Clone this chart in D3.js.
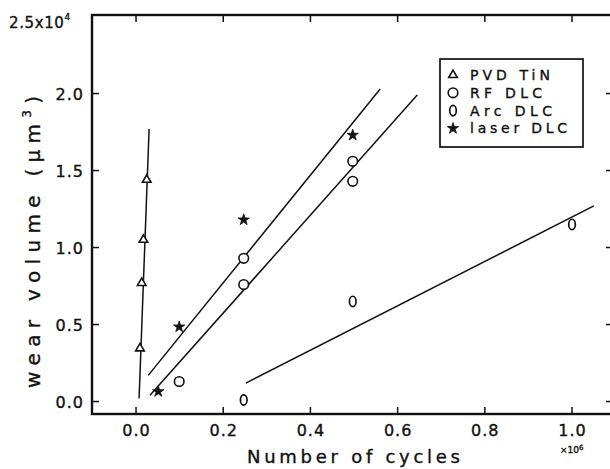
<!DOCTYPE html>
<html>
<head>
<meta charset="utf-8">
<script src="https://cdn.jsdelivr.net/npm/d3@7"></script>
<style>
  html, body { margin: 0; padding: 0; background: #fff; }
  svg { display: block; }
  text { font-family: "DejaVu Sans", sans-serif; fill: #111; stroke: #111; stroke-width: 0.35px; }
</style>
</head>
<body>
<svg id="chart" width="610" height="469"></svg>
<script>
// ---- data (x in 10^6 cycles, y in 10^4 µm^3) ----
const xTicks = [0.0, 0.2, 0.4, 0.6, 0.8, 1.0];
const yTicks = [0.0, 0.5, 1.0, 1.5, 2.0];
const xTickLabels = ["0.0", "0.2", "0.4", "0.6", "0.8", "1.0"];
const yTickLabels = ["0.0", "0.5", "1.0", "1.5", "2.0"];

const pvdX = [0.009, 0.013, 0.017, 0.0245];
const pvdY = [0.345, 0.77, 1.05, 1.44];
const rfX = [0.099, 0.247, 0.247, 0.497, 0.497];
const rfY = [0.13, 0.76, 0.93, 1.43, 1.56];
const arcX = [0.247, 0.497, 1.0];
const arcY = [0.01, 0.65, 1.15];
const laserX = [0.051, 0.099, 0.247, 0.497];
const laserY = [0.065, 0.485, 1.18, 1.73];

// fitted lines (end points)
const pvdLineX = [0.007, 0.030];
const pvdLineY = [0.02, 1.77];
const laserLineX = [0.028, 0.56];
const laserLineY = [0.17, 2.03];
const rfLineX = [0.032, 0.645];
const rfLineY = [0.04, 1.99];
const arcLineX = [0.252, 1.05];
const arcLineY = [0.12, 1.27];

const legendLabels = ["PVD  TiN", "RF  DLC", "Arc  DLC", "laser  DLC"];
const legendWidths = [80, 72, 82, 97];
const legendShapes = ["triangle", "circle", "diamond", "star"];

// ---- layout ----
const svg = d3.select("#chart");
const x = d3.scaleLinear().domain([-0.101, 1.094]).range([92, 613]);
const y = d3.scaleLinear().domain([-0.081, 2.51]).range([414, 15]);
const x0 = x.range()[0], x1 = x.range()[1];
const y0 = y.range()[0], y1 = y.range()[1];

// frame
svg.append("rect")
  .attr("x", x0).attr("y", y1)
  .attr("width", x1 - x0).attr("height", y0 - y1)
  .attr("fill", "none").attr("stroke", "#111").attr("stroke-width", 2.4);

// ticks (inward on all four sides)
const tl = 7;
const tickG = svg.append("g").attr("stroke", "#111").attr("stroke-width", 1.5);
xTicks.forEach(v => {
  tickG.append("line").attr("x1", x(v)).attr("x2", x(v)).attr("y1", y0).attr("y2", y0 - tl);
  tickG.append("line").attr("x1", x(v)).attr("x2", x(v)).attr("y1", y1).attr("y2", y1 + tl);
});
yTicks.forEach(v => {
  tickG.append("line").attr("x1", x0).attr("x2", x0 + tl).attr("y1", y(v)).attr("y2", y(v));
  tickG.append("line").attr("x1", x1).attr("x2", x1 - tl).attr("y1", y(v)).attr("y2", y(v));
});

// tick labels
xTicks.forEach((v, i) => {
  svg.append("text").attr("x", x(v) + 0.5).attr("y", 436)
    .attr("text-anchor", "middle").attr("font-size", 16).attr("letter-spacing", 1)
    .text(xTickLabels[i]);
});
yTicks.forEach((v, i) => {
  svg.append("text").attr("x", 84).attr("y", y(v) + 6)
    .attr("text-anchor", "end").attr("font-size", 16).attr("letter-spacing", 1)
    .text(yTickLabels[i]);
});
// top y label with exponent
const topLab = svg.append("text").attr("x", 9).attr("y", 28).attr("font-size", 15).attr("letter-spacing", 0.6);
topLab.append("tspan").text("2.5x10");
topLab.append("tspan").attr("font-size", 9).attr("dy", -8).text("4");

// x multiplier
const xm = svg.append("text").attr("x", 560).attr("y", 453).attr("font-size", 9);
xm.append("tspan").text("\u00d710");
xm.append("tspan").attr("font-size", 7).attr("dy", -3).text("6");

// axis titles
svg.append("text").attr("x", 247).attr("y", 463)
  .attr("font-size", 18).attr("textLength", 213).attr("lengthAdjust", "spacing")
  .text("Number of cycles");
const yt = svg.append("text")
  .attr("transform", "translate(40,388) rotate(-90)")
  .attr("font-size", 20).attr("textLength", 292).attr("lengthAdjust", "spacing");
yt.append("tspan").text("wear volume (\u03bcm");
yt.append("tspan").attr("font-size", 12).attr("dy", -9).text("3");
yt.append("tspan").attr("dy", 9).text(")");

// fitted lines
const lineG = svg.append("g").attr("stroke", "#111").attr("stroke-width", 1.5).attr("fill", "none");
[[pvdLineX, pvdLineY], [laserLineX, laserLineY], [rfLineX, rfLineY], [arcLineX, arcLineY]].forEach(([lx, ly]) => {
  lineG.append("path")
    .attr("d", d3.line().x(d => x(d[0])).y(d => y(d[1]))(lx.map((v, i) => [v, ly[i]])));
});

// markers
function drawMarker(g, shape, cx, cy) {
  if (shape === "triangle") {
    g.append("path").attr("d", d3.symbol().type(d3.symbolTriangle).size(32)())
      .attr("transform", `translate(${cx},${cy})`)
      .attr("fill", "#fff").attr("stroke", "#111").attr("stroke-width", 1.6);
  } else if (shape === "circle") {
    g.append("circle").attr("cx", cx).attr("cy", cy).attr("r", 4.8)
      .attr("fill", "#fff").attr("stroke", "#111").attr("stroke-width", 1.6);
  } else if (shape === "diamond") {
    g.append("ellipse").attr("cx", cx).attr("cy", cy).attr("rx", 3.3).attr("ry", 5.2)
      .attr("fill", "#fff").attr("stroke", "#111").attr("stroke-width", 1.7);
  } else {
    g.append("path").attr("d", d3.symbol().type(d3.symbolStar).size(40)())
      .attr("transform", `translate(${cx},${cy})`)
      .attr("fill", "#111").attr("stroke", "#111").attr("stroke-width", 0.8);
  }
}
const mG = svg.append("g");
pvdX.forEach((v, i) => drawMarker(mG, "triangle", x(v), y(pvdY[i])));
rfX.forEach((v, i) => drawMarker(mG, "circle", x(v), y(rfY[i])));
arcX.forEach((v, i) => drawMarker(mG, "diamond", x(v), y(arcY[i])));
laserX.forEach((v, i) => drawMarker(mG, "star", x(v), y(laserY[i])));

// legend
const lg = svg.append("g");
lg.append("rect").attr("x", 440).attr("y", 59).attr("width", 143).attr("height", 88)
  .attr("fill", "none").attr("stroke", "#111").attr("stroke-width", 1.7);
legendLabels.forEach((t, i) => {
  const ry = 75 + i * 17.8;
  drawMarker(lg, legendShapes[i], 453, ry);
  lg.append("text").attr("x", 470).attr("y", ry + 5).attr("font-size", 14)
    .attr("textLength", legendWidths[i]).attr("lengthAdjust", "spacing").text(t);
});
</script>
</body>
</html>
